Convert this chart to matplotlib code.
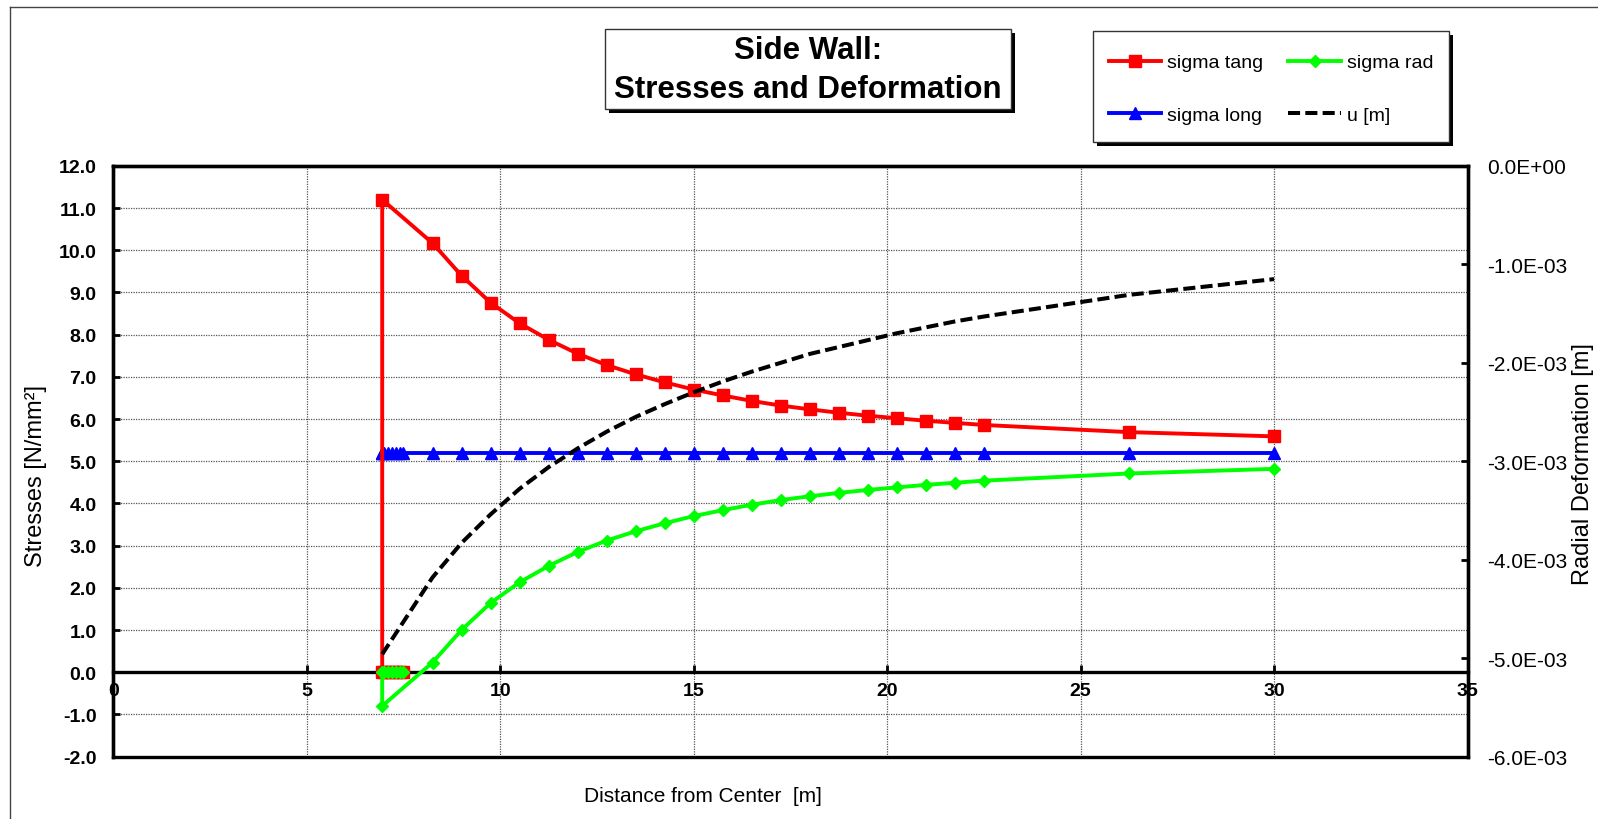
import matplotlib
matplotlib.use('Agg')
import matplotlib.pyplot as plt
from matplotlib.patches import Rectangle
from matplotlib.lines import Line2D

plt.rcParams['font.family'] = ['Liberation Sans', 'DejaVu Sans']

# distance from centre [m]  (lining points first, then the rock points)
r = [7.50, 7.40, 7.30, 7.20, 7.10, 7.00, 6.95, 6.95, 8.25, 9.00, 9.75, 10.50,
     11.25, 12.00, 12.75, 13.50, 14.25, 15.00, 15.75, 16.50, 17.25, 18.00,
     18.75, 19.50, 20.25, 21.00, 21.75, 22.50, 26.25, 30.00]

sig_tang = [0, 0, 0, 0, 0, 0, 0, 11.20, 10.17, 9.40, 8.76, 8.27,
            7.88, 7.55, 7.28, 7.06, 6.87, 6.70, 6.56, 6.43, 6.32, 6.23,
            6.15, 6.08, 6.02, 5.96, 5.91, 5.86, 5.69, 5.59]

sig_rad = [0, 0, 0, 0, 0, 0, 0, -0.80, 0.23, 1.00, 1.64, 2.13,
           2.52, 2.85, 3.12, 3.34, 3.53, 3.70, 3.84, 3.97, 4.08, 4.17,
           4.25, 4.32, 4.38, 4.44, 4.49, 4.54, 4.71, 4.82]

sig_long = [5.2] * len(r)

# radial deformation [m]
u = [-4.60e-3, -4.66e-3, -4.72e-3, -4.78e-3, -4.85e-3, -4.92e-3, -4.96e-3, -4.96e-3,
     -4.18e-3, -3.83e-3, -3.54e-3, -3.28e-3, -3.06e-3, -2.87e-3, -2.70e-3, -2.55e-3,
     -2.42e-3, -2.30e-3, -2.19e-3, -2.09e-3, -2.00e-3, -1.91e-3, -1.84e-3, -1.77e-3,
     -1.70e-3, -1.64e-3, -1.58e-3, -1.53e-3, -1.31e-3, -1.15e-3]

x_ticks = [0, 5, 10, 15, 20, 25, 30, 35]
y_ticks = [-2, -1, 0, 1, 2, 3, 4, 5, 6, 7, 8, 9, 10, 11, 12]
u_ticks = [0.0, -1e-3, -2e-3, -3e-3, -4e-3, -5e-3, -6e-3]

W, H = 1598, 820
fig = plt.figure(figsize=(W / 100, H / 100), dpi=100)


def fx(px):
    return px / W


def fy(py):
    return 1 - py / H


ax = fig.add_axes([fx(113.3), fy(757.6), fx(1467.5) - fx(113.3), fy(166.9) - fy(757.6)])
ax2 = ax.twinx()

l_long, = ax.plot(r, sig_long, color='#0000FF', lw=2.8, marker='^', ms=9, zorder=3)
l_tang, = ax.plot(r, sig_tang, color='#FF0000', lw=2.8, marker='s', ms=9, zorder=4)
l_rad, = ax.plot(r, sig_rad, color='#00FF00', lw=2.8, marker='D', ms=6, zorder=5)
l_u, = ax2.plot(r[6:], u[6:], color='black', lw=2.9, ls=(0, (3.0, 1.3)))

ax.set_xlim(0, 35)
ax.set_ylim(-2, 12)
ax2.set_ylim(-6e-3, 0)

ax.spines['bottom'].set_position(('data', 0))
for sp in list(ax.spines.values()) + list(ax2.spines.values()):
    sp.set_linewidth(2.4)
    sp.set_color('black')

ax.set_xticks(x_ticks, [str(v) for v in x_ticks], fontweight='bold')
ax.set_yticks(y_ticks, ['%.1f' % v for v in y_ticks], fontweight='bold')
ax.tick_params(axis='x', direction='in', length=5, width=2, labelsize=14, pad=7)
ax.tick_params(axis='y', direction='in', length=5, width=2, labelsize=14, pad=12)
ax.grid(True, color='#555555', ls=(0, (1, 1)), lw=0.9)
ax.set_axisbelow(True)

ax2.set_yticks(u_ticks, ['%.1E' % v for v in u_ticks])
ax2.tick_params(axis='y', direction='in', length=5, width=2, labelsize=15, pad=14)

fig.text(fx(36), fy(476), 'Stresses [N/mm²]', rotation=90, ha='center', va='center', fontsize=17)
fig.text(fx(1583), fy(464), 'Radial Deformation [m]', rotation=90, ha='center', va='center', fontsize=17)
fig.text(fx(703), fy(797), 'Distance from Center  [m]', ha='center', va='center', fontsize=15)


def shadow_box(x0, y0, x1, y1):
    fig.add_artist(Rectangle((fx(x0 + 4), fy(y1 + 4)), fx(x1) - fx(x0), fy(y0) - fy(y1),
                             transform=fig.transFigure, facecolor='black', edgecolor='none'))
    fig.add_artist(Rectangle((fx(x0), fy(y1)), fx(x1) - fx(x0), fy(y0) - fy(y1),
                             transform=fig.transFigure, facecolor='white', edgecolor='#333333', lw=1))


# title box
shadow_box(605, 30, 1011, 110)
fig.text(fx(808), fy(51), 'Side Wall:', ha='center', va='center', fontsize=22.5, weight='bold')
fig.text(fx(808), fy(90), 'Stresses and Deformation', ha='center', va='center', fontsize=22.5, weight='bold')

# legend box
shadow_box(1093, 32, 1449, 143)
fig.legend([l_tang, l_long, l_rad, l_u], ['sigma tang', 'sigma long', 'sigma rad', 'u [m]'],
           ncol=2, loc='center', bbox_to_anchor=(fx(1271), fy(90)), frameon=False,
           fontsize=14, handlelength=2.7, handletextpad=0.3, columnspacing=1.3,
           labelspacing=1.8)

# outer chart frame
fig.add_artist(Line2D([fx(10), fx(10)], [0, fy(8)], transform=fig.transFigure, color='#444444', lw=1))
fig.add_artist(Line2D([fx(10), 1], [fy(8), fy(8)], transform=fig.transFigure, color='#444444', lw=1))

fig.savefig('out.png', dpi=100)
